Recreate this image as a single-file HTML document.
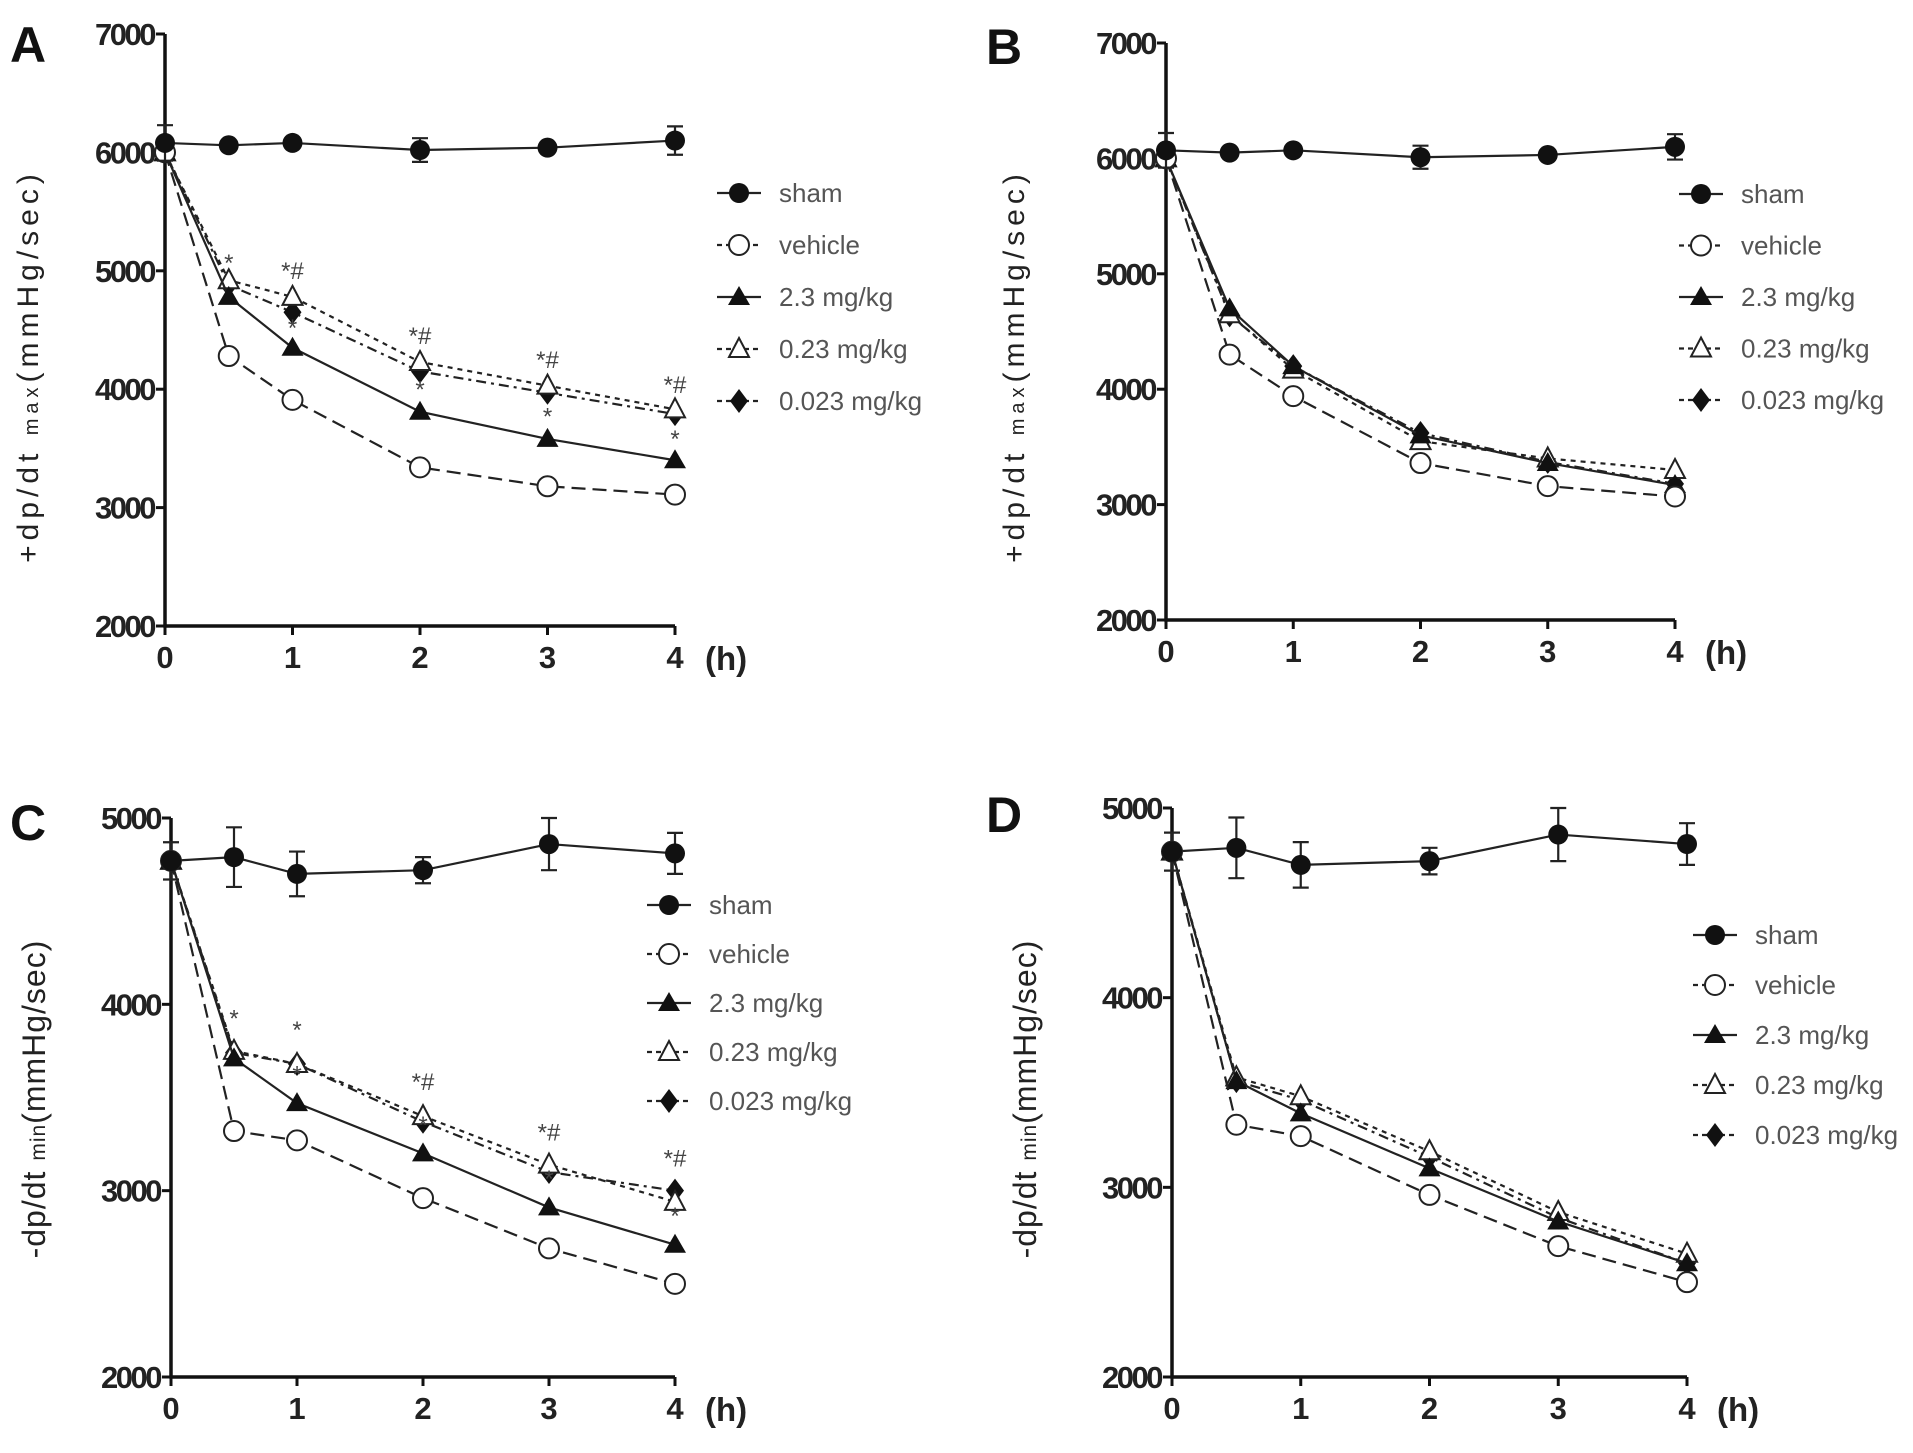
<!DOCTYPE html>
<html><head><meta charset="utf-8">
<style>
html,body{margin:0;padding:0;background:#fff;}
svg{display:block;font-family:"Liberation Sans",Arial,sans-serif;}
</style></head>
<body>
<svg id="fig" width="1913" height="1453" viewBox="0 0 1913 1453"></svg>
<script>
const hours = [0, 0.5, 1, 2, 3, 4];
const seriesNames = ["sham", "vehicle", "2.3 mg/kg", "0.23 mg/kg", "0.023 mg/kg"];
// Panel A (+dp/dt max, first)
const aSham = [6080, 6060, 6080, 6020, 6040, 6100];
const aShamErr = [150, 0, 0, 100, 0, 120];
const aVehicle = [6000, 4280, 3910, 3340, 3180, 3110];
const aDose23 = [6000, 4780, 4350, 3810, 3580, 3400];
const aDose023 = [6000, 4920, 4780, 4230, 4030, 3830];
const aDose0023 = [6000, 4880, 4650, 4150, 3970, 3790];
const aStars = [["*", 0.5, 5000], ["*#", 1, 4930], ["*", 1, 4450], ["*#", 2, 4380], ["*", 2, 3930], ["*#", 3, 4180], ["*", 3, 3700], ["*#", 4, 3970], ["*", 4, 3510]];
// Panel B
const bSham = [6070, 6050, 6070, 6010, 6030, 6100];
const bShamErr = [150, 0, 0, 100, 0, 110];
const bVehicle = [6000, 4300, 3940, 3360, 3160, 3070];
const bDose23 = [6000, 4700, 4200, 3600, 3360, 3170];
const bDose023 = [6000, 4650, 4170, 3550, 3400, 3300];
const bDose0023 = [6000, 4640, 4200, 3620, 3370, 3180];
// Panel C (-dp/dt min)
const cSham = [4770, 4790, 4700, 4720, 4860, 4810];
const cShamErr = [100, 160, 120, 70, 140, 110];
const cVehicle = [4770, 3320, 3270, 2960, 2690, 2500];
const cDose23 = [4770, 3710, 3470, 3200, 2910, 2710];
const cDose023 = [4770, 3750, 3680, 3400, 3140, 2940];
const cDose0023 = [4770, 3740, 3680, 3370, 3100, 3000];
const cStars = [["*", 0.5, 3880], ["*", 1, 3820], ["*", 1, 3580], ["*#", 2, 3540], ["*", 2, 3310], ["*#", 3, 3270], ["*", 3, 3020], ["*#", 4, 3130], ["*", 4, 2820]];
// Panel D
const dSham = [4770, 4790, 4700, 4720, 4860, 4810];
const dShamErr = [100, 160, 120, 70, 140, 110];
const dVehicle = [4770, 3330, 3270, 2960, 2690, 2500];
const dDose23 = [4770, 3560, 3390, 3100, 2820, 2600];
const dDose023 = [4770, 3580, 3480, 3190, 2870, 2650];
const dDose0023 = [4770, 3560, 3460, 3160, 2840, 2600];
const yTicksA = [2000, 3000, 4000, 5000, 6000, 7000];
const yTicksC = [2000, 3000, 4000, 5000];
const xTicks = [0, 1, 2, 3, 4];

const NS = "http://www.w3.org/2000/svg";
const svg = document.getElementById("fig");
function mk(tag, attrs, parent) {
  const e = document.createElementNS(NS, tag);
  for (const k in attrs) e.setAttribute(k, attrs[k]);
  (parent || svg).appendChild(e);
  return e;
}
const dashes = ["", "14,7", "", "5,5", "10,5,3,5"];

function drawPanel(p) {
  const g = mk("g", {});
  
  
  const X = h => p.x0 + h * p.xu;
  const Y = v => p.yb - (v - p.ymin) / (p.ymax - p.ymin) * (p.yb - p.yt);
  const ax = mk("path", {d: `M${p.x0},${p.yt} L${p.x0},${p.yb} L${X(4)},${p.yb}`, stroke: "#111", "stroke-width": 3.5, fill: "none"}, g);
  
  
  p.yticks.forEach(v => {
    mk("line", {x1: p.x0 - 9, x2: p.x0, y1: Y(v), y2: Y(v), stroke: "#111", "stroke-width": 3}, g);
    const t = mk("text", {x: p.x0 - 11, y: Y(v) + 11, "text-anchor": "end", "font-size": 31, "font-weight": "bold", fill: "#222", "letter-spacing": -2.5}, g);
    t.textContent = v;
    
    
  });
  xTicks.forEach(h => {
    mk("line", {x1: X(h), x2: X(h), y1: p.yb, y2: p.yb + 9, stroke: "#111", "stroke-width": 3}, g);
    const t = mk("text", {x: X(h), y: p.yb + 42, "text-anchor": "middle", "font-size": 31, "font-weight": "bold", fill: "#222"}, g);
    t.textContent = h;
    
    
  });
  const hu = mk("text", {x: X(4) + 30, y: p.yb + 44, "font-size": 33, "font-weight": "bold", fill: "#222"}, g);
  hu.textContent = "(h)";
  
  
  const yt = mk("text", {transform: `translate(${p.tx},${p.ty}) rotate(-90)`, "text-anchor": "middle", "font-size": p.fs, fill: "#222", "letter-spacing": p.ls}, g);
  yt.innerHTML = p.title;
  
  
  const L = mk("text", {x: p.lx, y: p.ly, "font-size": 50, "font-weight": "bold", fill: "#111"}, g);
  L.textContent = p.id;
  
  
  const series = p.series;
  for (let s = 4; s >= 0; s--) {
    const vals = series[s];
    const d = vals.map((v, i) => (i ? "L" : "M") + X(hours[i]) + "," + Y(v)).join(" ");
    const ln = mk("path", {d: d, fill: "none", stroke: "#222", "stroke-width": 2.2, "stroke-dasharray": dashes[s]}, g);
    
    
    vals.forEach((v, i) => {
      if (s === 0 && p.err[i]) {
        const e = p.err[i], cx = X(hours[i]);
        mk("path", {d: `M${cx},${Y(v - e)} L${cx},${Y(v + e)} M${cx - 8},${Y(v - e)} L${cx + 8},${Y(v - e)} M${cx - 8},${Y(v + e)} L${cx + 8},${Y(v + e)}`, stroke: "#222", "stroke-width": 2.2, fill: "none"}, g);
      }
      const m = marker(s, X(hours[i]), Y(v), g);
      
      
    });
  }
  (p.stars || []).forEach(a => {
    const t = mk("text", {x: X(a[1]), y: Y(a[2]), "text-anchor": "middle", "font-size": 24, fill: "#444"}, g);
    t.textContent = a[0];
    
    
  });
  seriesNames.forEach((n, s) => {
    const y = p.leg[1] + s * p.leg[2];
    const lg = mk("g", {}, g);
    
    
    mk("line", {x1: p.leg[0] - 22, x2: p.leg[0] + 22, y1: y, y2: y, stroke: "#222", "stroke-width": 2.2, "stroke-dasharray": dashes[s] ? "5,4" : ""}, lg);
    marker(s, p.leg[0], y, lg);
    const t = mk("text", {x: p.leg[0] + 40, y: y + 9, "font-size": 26, fill: "#555"}, lg);
    t.textContent = n;
  });
}
function marker(s, x, y, parent) {
  const r = 10;
  if (s === 0) return mk("circle", {cx: x, cy: y, r: r, fill: "#111"}, parent);
  if (s === 1) return mk("circle", {cx: x, cy: y, r: r, fill: "#fff", stroke: "#222", "stroke-width": 2}, parent);
  if (s === 2) return mk("polygon", {points: `${x},${y - 11} ${x + 11},${y + 8} ${x - 11},${y + 8}`, fill: "#111"}, parent);
  if (s === 3) return mk("polygon", {points: `${x},${y - 11} ${x + 10},${y + 8} ${x - 10},${y + 8}`, fill: "#fff", stroke: "#222", "stroke-width": 2}, parent);
  return mk("polygon", {points: `${x},${y - 12} ${x + 9},${y} ${x},${y + 12} ${x - 9},${y}`, fill: "#111"}, parent);
}
const maxT = '+dp/dt <tspan font-size="20">max</tspan>(mmHg/sec)';
const minT = '-dp/dt <tspan font-size="21">min</tspan>(mmHg/sec)';
drawPanel({id: "A", x0: 165, xu: 127.5, yt: 34, yb: 626, ymin: 2000, ymax: 7000, yticks: yTicksA, err: aShamErr,
  series: [aSham, aVehicle, aDose23, aDose023, aDose0023], stars: aStars, leg: [739, 193, 52],
  tx: 38, ty: 366, title: maxT, ls: 5, fs: 30, lx: 10, ly: 62});
drawPanel({id: "B", x0: 1166, xu: 127.25, yt: 43, yb: 620, ymin: 2000, ymax: 7000, yticks: yTicksA, err: bShamErr,
  series: [bSham, bVehicle, bDose23, bDose023, bDose0023], leg: [1701, 194, 51.5],
  tx: 1024, ty: 366, title: maxT, ls: 5, fs: 30, lx: 986, ly: 64});
drawPanel({id: "C", x0: 171, xu: 126, yt: 818, yb: 1377, ymin: 2000, ymax: 5000, yticks: yTicksC, err: cShamErr,
  series: [cSham, cVehicle, cDose23, cDose023, cDose0023], stars: cStars, leg: [669, 905, 49],
  tx: 45, ty: 1099, title: minT, ls: 1, fs: 32, lx: 10, ly: 840});
drawPanel({id: "D", x0: 1172, xu: 128.75, yt: 808, yb: 1377, ymin: 2000, ymax: 5000, yticks: yTicksC, err: dShamErr,
  series: [dSham, dVehicle, dDose23, dDose023, dDose0023], leg: [1715, 935, 50],
  tx: 1036, ty: 1099, title: minT, ls: 1, fs: 32, lx: 986, ly: 832});
</script>
</body></html>
